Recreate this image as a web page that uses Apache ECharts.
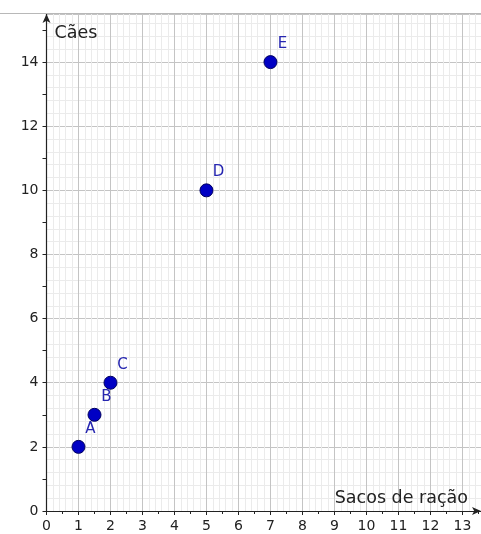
<!DOCTYPE html>
<html>
<head>
<meta charset="utf-8">
<script src="https://cdn.jsdelivr.net/npm/echarts@6/dist/echarts.min.js"></script>
<style>
html,body{margin:0;padding:0;background:#fff;}
#c{width:481px;height:534px;}
</style>
</head>
<body>
<div id="c"></div>
<script>
const pointNames = ['A', 'B', 'C', 'D', 'E'];
const sacos = [1, 1.5, 2, 5, 7];
const caes = [2, 3, 4, 10, 14];
const xName = 'Sacos de ração';
const yName = 'Cães';

const chart = echarts.init(document.getElementById('c'), null, {renderer: 'canvas'});
const FONT = '"DejaVu Sans", Verdana, sans-serif';
const points = sacos.map((x, i) => ({value: [x, caes[i]], name: pointNames[i]}));

chart.setOption({
  animation: false,
  backgroundColor: '#fff',
  grid: {left: 46.5, right: 0, top: 14, bottom: 23},
  graphic: [{
    type: 'line', shape: {x1: 0, y1: 13.5, x2: 481, y2: 13.5},
    style: {stroke: '#b8b8b8', lineWidth: 1}, z: 1
  }],
  xAxis: [{
    type: 'value', min: 0, max: 13.58, interval: 1,
    axisLine: {show: true, onZero: false, lineStyle: {color: '#222', width: 1.2},
      symbol: ['none', 'arrow'], symbolSize: [6, 9]},
    axisTick: {show: true, inside: false, length: 4, lineStyle: {color: '#222'}},
    axisLabel: {show: true, margin: 8, color: '#222', fontSize: 14, fontFamily: FONT,
      showMaxLabel: false, formatter: v => (Number.isInteger(v) ? String(v) : '')},
    splitLine: {show: true, lineStyle: {color: '#c4c4c4', width: 1}},
    minorTick: {show: false, splitNumber: 5},
    minorSplitLine: {show: true, lineStyle: {color: '#ebebeb', width: 1}},
    name: xName, nameLocation: 'end', nameGap: 0,
    nameTextStyle: {color: '#222', fontSize: 17.5, fontFamily: FONT, align: 'right',
      verticalAlign: 'bottom', padding: [0, 13, 4, 0]}
  }, {
    type: 'value', min: 0, max: 13.58, interval: 0.5, position: 'bottom',
    axisLine: {show: false},
    axisTick: {show: true, inside: false, length: 3, lineStyle: {color: '#222'}},
    axisLabel: {show: false},
    splitLine: {show: false}
  }],
  yAxis: [{
    type: 'value', min: 0, max: 15.5, interval: 2,
    axisLine: {show: false},
    axisTick: {show: false},
    axisLabel: {show: false},
    splitLine: {show: true, lineStyle: {color: '#c4c4c4', width: 1}},
    minorTick: {show: false, splitNumber: 5},
    minorSplitLine: {show: true, lineStyle: {color: '#ebebeb', width: 1}}
  }, {
    type: 'value', min: 0, max: 15.5, interval: 1, position: 'left',
    axisLine: {show: true, onZero: false, lineStyle: {color: '#222', width: 1.2},
      symbol: ['none', 'arrow'], symbolSize: [6, 9]},
    axisTick: {show: true, inside: false, length: 4, lineStyle: {color: '#222'}},
    axisLabel: {show: true, margin: 8, color: '#222', fontSize: 14, fontFamily: FONT,
      showMaxLabel: false, formatter: v => (Number.isInteger(v) && v % 2 === 0 ? String(v) : '')},
    splitLine: {show: false},
    name: yName, nameLocation: 'end', nameGap: -10,
    nameTextStyle: {color: '#222', fontSize: 17.5, fontFamily: FONT, align: 'left',
      verticalAlign: 'top', padding: [0, 0, 0, 8]}
  }],
  series: [{
    type: 'scatter', xAxisIndex: 0, yAxisIndex: 1,
    data: points,
    symbol: 'circle', symbolSize: 13,
    itemStyle: {color: '#0000c4', borderColor: '#000060', borderWidth: 1, opacity: 1},
    label: {show: true, position: 'inside', offset: [12, -18],
      formatter: p => p.name, color: '#2626b0', fontSize: 15, fontFamily: FONT},
    z: 5
  }]
});
</script>
</body>
</html>
